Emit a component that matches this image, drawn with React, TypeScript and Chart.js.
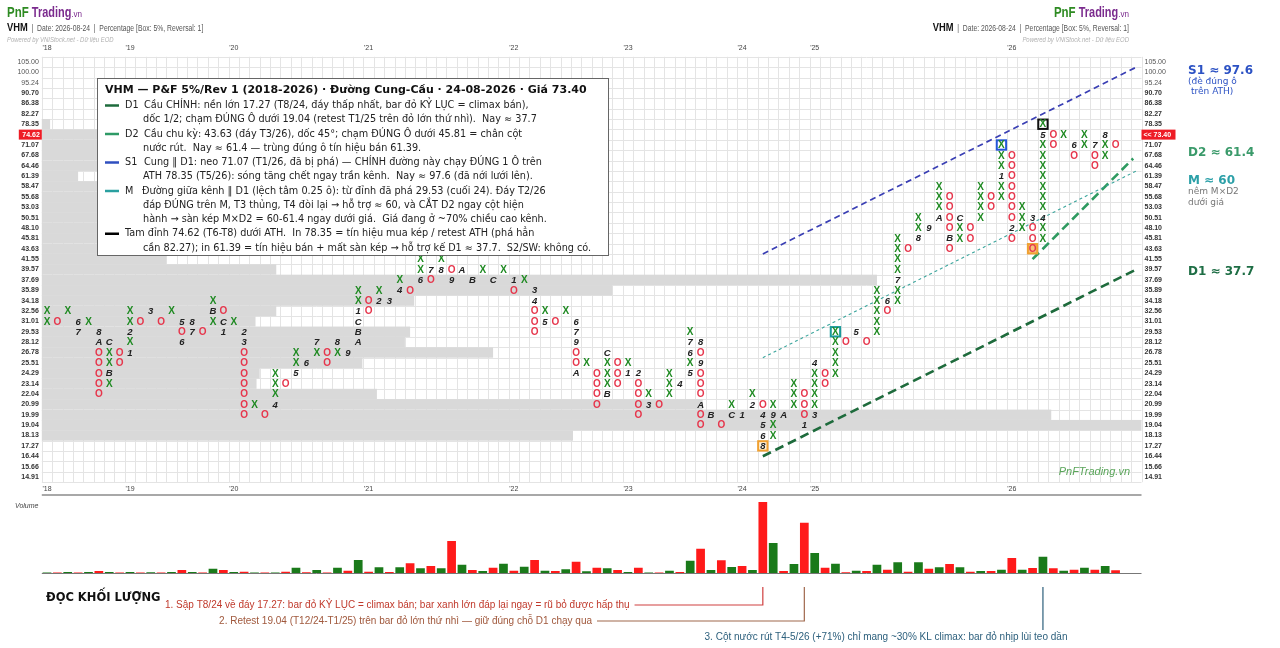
import React, { useEffect, useRef } from 'react';
import { Chart, registerables } from 'chart.js';
Chart.register(...registerables);

// ---------- DATA ----------
const boxLabels = ['14.91','15.66','16.44','17.27','18.13','19.04','19.99','20.99','22.04','23.14','24.29','25.51','26.78','28.12','29.53','31.01','32.56','34.18','35.89','37.69','39.57','41.55','43.63','45.81','48.10','50.51','53.03','55.68','58.47','61.39','64.46','67.68','71.07','74.62','78.35','82.27','86.38','90.70','95.24','100.00','105.00'];

// bottom box index of each P&F column
const colBottom = [15,15,16,14,15,8,9,11,12,15,16,15,16,13,14,14,15,14,15,6,7,6,7,9,10,11,12,11,12,12,13,16,17,17,18,18,19,19,20,19,20,19,20,19,20,18,19,14,15,15,16,10,11,7,8,9,10,6,7,7,8,9,10,5,6,5,6,6,7,3,4,6,7,5,6,9,10,13,14,13,14,16,17,22,23,24,25,22,23,23,25,26,27,23,24,22,23,32,33,31,32,30,31,32];
// boxes of each column from bottom to top (X / O, or month marker 1-9,A,B,C)
const colBoxes = ['XX','O','X','76','X','OOOOOA8','XBXXC','OO','1X2XX','O','3','O','X','6O5','78','O','XBX','1CO','X','OOOOOOO32','X','O','4XXX','O','5XX','6','X7','OO','X8','9','ABC1XX','OO','2X','3','4X','O','6XX','O7','8X','9O','A','B','X','C','X','O1','X','OOO43','5X','O','X','AOO976','X','OOOO','BXXXC','OOO','1X','OOOO2','3X','O','XXX','4','5X67X','OOAOOO9O8','B','O','CX','1','2X','8654O','XX9X','A','XXX','1OOO','3XXXX4','OO','XXXXX','O','5','O','XXXXX','O6','XX7XXXX','O','8XX','9','AXXX','OBOOOO','XXC','OO','XXXX','OO','XX1XXX','O2OOOOOOO','XXX','OOO3','XX4XXXXXXX5X','OO','X','O6','XX','OO7','XX8','O'];

// volume per column (relative units)
const volumes = [0.5,0.5,1,0.5,1,2,1,0.5,1,0.5,0.8,0.5,1,3,1,0.5,4.3,3,1,1.3,0.5,0.5,0.5,1.3,5.3,0.7,3,0.5,5.3,2.3,13,1.3,5.7,1,5.7,9.7,4.7,7,4.7,32,8.3,3,2,5.3,9.3,2.3,6.3,13,2.3,2,3.7,11.3,1.7,5.3,4.7,3,1,5.3,0.4,0.4,2.3,1,12.3,24.3,3,12.7,6,7,3,71,30,2,9,50.3,20,5.3,9.3,0.7,2.3,2,8.3,3.3,10.7,1.3,10.7,4.3,5.7,9,5.7,1.3,2,2,3.3,15,3.3,5,16.3,4.7,2.3,3.3,5.3,3.3,7,2.7];

// volume-at-price profile per box (length in columns)
const priceProfile = [0,0,0,0,51.2,106,97.3,63.7,32.3,20.7,21,30.9,43.5,35,35.5,20.6,22.6,35.9,55,80.5,22.6,12,30,34,40,38,32,26,18,3.5,14,22,28,16,0.8,0,0,0,0,0,0];

const yearLabels = ["'18","'19","'20","'21","'22","'23","'24","'25","'26"];
const yearCols = [0,8,18,31,45,56,67,74,93];

const boxedCols = [69,95,76,92,96];
const boxedRows = [3,22,14,32,34];

const lastPrice = 73.40;
const lastBox = 33;

// trend lines (column, box) end points
const d1Cols = [69,105.2]; const d1Rows = [2,20.1];
const d2Cols = [95,104.7]; const d2Rows = [21,30.7];
const s1Cols = [69,105.2]; const s1Rows = [21.5,39.6];
const mCols = [69,105.2]; const mRows = [11.5,29.6];

// ---------- STYLES ----------
const NCOLS = 106;
const GREEN_X = '#1f8a22';
const RED_O = '#e6364c';
const boxedStyle = [
  { stroke: '#f0a030', fill: '#fff4e0' },
  { stroke: '#f0a030', fill: '#f6c27c' },
  { stroke: '#1a9a9a', fill: '#ffffff' },
  { stroke: '#2456d8', fill: '#ffffff' },
  { stroke: '#111111', fill: '#ffffff' },
];

const legendTitle = 'VHM — P&F 5%/Rev 1 (2018-2026) · Đường Cung-Cầu · 24-08-2026 · Giá 73.40';
const legendItems = [
  { color: '#1e6b3c', tag: 'D1', lines: ['Cầu CHÍNH: nền lớn 17.27 (T8/24, đáy thấp nhất, bar đỏ KỶ LỤC = climax bán),', 'dốc 1/2; chạm ĐÚNG Ô dưới 19.04 (retest T1/25 trên đỏ lớn thứ nhì).  Nay ≈ 37.7'] },
  { color: '#2e9a66', tag: 'D2', lines: ['Cầu chu kỳ: 43.63 (đáy T3/26), dốc 45°; chạm ĐÚNG Ô dưới 45.81 = chân cột', 'nước rút.  Nay ≈ 61.4 — trùng đúng ô tín hiệu bán 61.39.'] },
  { color: '#2f4fbf', tag: 'S1', lines: ['Cung ‖ D1: neo 71.07 (T1/26, đã bị phá) — CHÍNH đường này chạy ĐÚNG 1 Ô trên', 'ATH 78.35 (T5/26): sóng tăng chết ngay trần kênh.  Nay ≈ 97.6 (đã nới lưới lên).'] },
  { color: '#2aa0a0', tag: 'M', lines: ['Đường giữa kênh ‖ D1 (lệch tâm 0.25 ô): từ đỉnh đã phá 29.53 (cuối 24). Đáy T2/26', 'đáp ĐÚNG trên M, T3 thủng, T4 đòi lại → hỗ trợ ≈ 60, và CẮT D2 ngay cột hiện', 'hành → sàn kép M×D2 = 60-61.4 ngay dưới giá.  Giá đang ở ~70% chiều cao kênh.'] },
  { color: '#000000', tag: '', lines: ['Tam đỉnh 74.62 (T6-T8) dưới ATH.  In 78.35 = tín hiệu mua kép / retest ATH (phá hẳn', 'cần 82.27); in 61.39 = tín hiệu bán + mất sàn kép → hỗ trợ kế D1 ≈ 37.7.  S2/SW: không có.'] },
];

const SANS = '"DejaVu Sans", "Liberation Sans", sans-serif';
const ARIAL = '"Liberation Sans", Arial, sans-serif';

function buildMarks() {
  const xs: any[] = [], os: any[] = [], ms: any[] = [];
  colBottom.forEach((b, c) => {
    const s = colBoxes[c];
    for (let k = 0; k < s.length; k++) {
      const ch = s[k];
      const p = { x: c, y: b + k, ch };
      if (ch === 'X') xs.push(p); else if (ch === 'O') os.push(p); else ms.push(p);
    }
  });
  return { xs, os, ms };
}

type Seg = { t: string; f: string; c: string; sx?: number };
function segText(ctx: CanvasRenderingContext2D, segs: Seg[], x: number, y: number, align: 'left' | 'right') {
  let w = 0;
  segs.forEach(s => { ctx.font = s.f; w += ctx.measureText(s.t).width * (s.sx || 1); });
  let cx = align === 'left' ? x : x - w;
  ctx.textAlign = 'left';
  segs.forEach(s => {
    const sx = s.sx || 1;
    ctx.font = s.f; ctx.fillStyle = s.c;
    ctx.save(); ctx.translate(cx, y); ctx.scale(sx, 1); ctx.fillText(s.t, 0, 0); ctx.restore();
    cx += ctx.measureText(s.t).width * sx;
  });
  return w;
}

const pnfPlugin = {
  id: 'pnfPlugin',
  beforeDatasetsDraw(chart: any) {
    const { ctx, chartArea: a, scales } = chart;
    const x = scales.x, y = scales.y;
    ctx.save();
    ctx.fillStyle = '#ffffff';
    ctx.fillRect(a.left, a.top, a.right - a.left, a.bottom - a.top);
    ctx.strokeStyle = '#e4e4e4';
    ctx.lineWidth = 1;
    for (let c = 0; c <= NCOLS; c++) {
      const px = Math.round(x.getPixelForValue(c - 0.5)) + 0.5;
      ctx.beginPath(); ctx.moveTo(px, a.top); ctx.lineTo(px, a.bottom); ctx.stroke();
    }
    for (let r = 0; r <= boxLabels.length; r++) {
      const py = Math.round(y.getPixelForValue(r - 0.5)) + 0.5;
      ctx.beginPath(); ctx.moveTo(a.left, py); ctx.lineTo(a.right, py); ctx.stroke();
    }
    ctx.fillStyle = '#d9d9d9';
    priceProfile.forEach((v, r) => {
      if (v <= 0) return;
      const x1 = x.getPixelForValue(-0.5);
      const x2 = Math.min(x.getPixelForValue(v - 0.5), a.right);
      const yt = y.getPixelForValue(r + 0.5), yb = y.getPixelForValue(r - 0.5);
      ctx.fillRect(x1, yt, x2 - x1, yb - yt);
    });
    ctx.restore();
  },
  afterDatasetsDraw(chart: any) {
    const { ctx, scales } = chart;
    const x = scales.x, y = scales.y;
    const cw = Math.abs(x.getPixelForValue(1) - x.getPixelForValue(0));
    ctx.save();
    boxedCols.forEach((c, i) => {
      const px = x.getPixelForValue(c), py = y.getPixelForValue(boxedRows[i]);
      const st = boxedStyle[i];
      ctx.fillStyle = st.fill; ctx.strokeStyle = st.stroke; ctx.lineWidth = 2;
      ctx.fillRect(px - cw / 2 + 0.5, py - cw / 2 + 0.5, cw - 1, cw - 1);
      ctx.strokeRect(px - cw / 2 + 0.5, py - cw / 2 + 0.5, cw - 1, cw - 1);
    });
    ctx.textAlign = 'center';
    ctx.textBaseline = 'middle';
    chart.data.datasets.forEach((ds: any, i: number) => {
      if (!ds.markKind) return;
      const meta = chart.getDatasetMeta(i);
      if (ds.markKind === 'X') { ctx.font = `bold 10px ${ARIAL}`; ctx.fillStyle = GREEN_X; }
      else if (ds.markKind === 'O') { ctx.font = `bold 10px ${ARIAL}`; ctx.fillStyle = RED_O; }
      else { ctx.font = `italic bold 9.5px ${ARIAL}`; ctx.fillStyle = '#222222'; }
      meta.data.forEach((el: any, j: number) => {
        ctx.fillText(ds.data[j].ch, el.x, el.y + 0.5);
      });
    });
    ctx.restore();
  },
  afterDraw(chart: any) {
    const { ctx, chartArea: a, scales } = chart;
    const x = scales.x, y = scales.y;
    ctx.save();
    ctx.textBaseline = 'middle';
    boxLabels.forEach((lab, r) => {
      const py = y.getPixelForValue(r);
      ctx.font = `bold 7px ${ARIAL}`;
      if (r === lastBox) {
        ctx.fillStyle = '#ee1c25';
        ctx.fillRect(a.left - 23, py - 5, 23, 10);
        ctx.fillStyle = '#ffffff'; ctx.textAlign = 'right';
        ctx.fillText(lab, a.left - 2, py);
        ctx.fillStyle = '#ee1c25';
        ctx.fillRect(a.right, py - 5, 34, 10);
        ctx.fillStyle = '#ffffff'; ctx.textAlign = 'left';
        ctx.fillText('<< ' + lastPrice.toFixed(2), a.right + 2, py);
      } else {
        ctx.fillStyle = r >= 38 ? '#555555' : '#333333';
        ctx.font = r >= 38 ? `7px ${ARIAL}` : `bold 7px ${ARIAL}`;
        ctx.textAlign = 'right'; ctx.fillText(lab, a.left - 3, py);
        ctx.textAlign = 'left'; ctx.fillText(lab, a.right + 3, py);
      }
    });
    ctx.font = `7px ${ARIAL}`; ctx.fillStyle = '#444444'; ctx.textAlign = 'center';
    yearLabels.forEach((lab, i) => {
      const px = x.getPixelForValue(yearCols[i]);
      ctx.fillText(lab, px, 48);
      ctx.fillText(lab, px, 489);
    });
    // header left and right
    ctx.textBaseline = 'alphabetic';
    const logo: Seg[] = [
      { t: 'PnF ', f: `bold 14px ${ARIAL}`, c: '#2e8b22', sx: 0.82 },
      { t: 'Trading', f: `bold 14px ${ARIAL}`, c: '#7b2b8e', sx: 0.78 },
      { t: '.vn', f: `9px ${ARIAL}`, c: '#7b2b8e', sx: 0.9 },
    ];
    const info: Seg[] = [
      { t: 'VHM', f: `bold 11px ${ARIAL}`, c: '#111111', sx: 0.85 },
      { t: '  |  Date: 2026-08-24  |  Percentage [Box: 5%, Reversal: 1]', f: `8.5px ${ARIAL}`, c: '#555555', sx: 0.8 },
    ];
    const powered: Seg[] = [{ t: 'Powered by VNIStock.net - Dữ liệu EOD', f: `italic 7px ${ARIAL}`, c: '#b0b0b0', sx: 0.85 }];
    segText(ctx, logo, 7, 17, 'left');
    segText(ctx, info, 7, 31, 'left');
    segText(ctx, powered, 7, 42, 'left');
    segText(ctx, logo, 1129, 17, 'right');
    segText(ctx, info, 1129, 31, 'right');
    segText(ctx, powered, 1129, 42, 'right');
    ctx.font = `italic 11px ${ARIAL}`; ctx.fillStyle = '#5aa55a'; ctx.textAlign = 'right';
    ctx.fillText('PnFTrading.vn', 1130, 475);
    ctx.textAlign = 'left';
    const rt = (t: string, f: string, c: string, px: number, py: number) => { ctx.font = f; ctx.fillStyle = c; ctx.fillText(t, px, py); };
    rt('S1 ≈ 97.6', `bold 12px ${SANS}`, '#2c52c4', 1188, 74);
    rt('(đè đúng ô', `9px ${SANS}`, '#2c52c4', 1188, 84);
    rt('trên ATH)', `9px ${SANS}`, '#2c52c4', 1191, 94);
    rt('D2 ≈ 61.4', `bold 12px ${SANS}`, '#3a9a6a', 1188, 156);
    rt('M ≈ 60', `bold 12px ${SANS}`, '#2ca0a8', 1188, 184);
    rt('nêm M×D2', `9px ${SANS}`, '#777777', 1188, 194);
    rt('dưới giá', `9px ${SANS}`, '#777777', 1188, 205);
    rt('D1 ≈ 37.7', `bold 12px ${SANS}`, '#1e6e45', 1188, 275);
    // legend box
    const lx = 97.5, ly = 78.5, lw = 511, lh = 177;
    ctx.fillStyle = '#ffffff'; ctx.fillRect(lx, ly, lw, lh);
    ctx.strokeStyle = '#666666'; ctx.lineWidth = 1; ctx.strokeRect(lx, ly, lw, lh);
    ctx.textBaseline = 'middle';
    ctx.font = `bold 11px ${SANS}`; ctx.fillStyle = '#111111';
    ctx.fillText(legendTitle, 105, 90);
    let ly2 = 105.5;
    const step = 14.25;
    legendItems.forEach(it => {
      it.lines.forEach((ln, k) => {
        ctx.font = `9.7px ${SANS}`; ctx.fillStyle = '#222222';
        if (k === 0) {
          ctx.strokeStyle = it.color; ctx.lineWidth = 2.5;
          ctx.beginPath(); ctx.moveTo(105, ly2); ctx.lineTo(119, ly2); ctx.stroke();
          if (it.tag) {
            ctx.fillText(it.tag, 125, ly2);
            ctx.fillText(ln, it.tag === 'M' ? 142 : 144, ly2);
          } else {
            ctx.fillText(ln, 125, ly2);
          }
        } else {
          ctx.fillText(ln, 143, ly2);
        }
        ly2 += step;
      });
    });
    ctx.restore();
  },
};

const volPlugin = {
  id: 'volPlugin',
  afterDraw(chart: any) {
    const { ctx, chartArea: a, scales } = chart;
    const x = scales.x;
    ctx.save();
    ctx.strokeStyle = '#a8a8a8'; ctx.lineWidth = 2;
    ctx.beginPath(); ctx.moveTo(a.left, 495); ctx.lineTo(a.right, 495); ctx.stroke();
    ctx.strokeStyle = '#777777'; ctx.lineWidth = 1;
    ctx.beginPath(); ctx.moveTo(a.left, a.bottom + 0.5); ctx.lineTo(a.right, a.bottom + 0.5); ctx.stroke();
    ctx.font = `italic 7px ${ARIAL}`; ctx.fillStyle = '#444444'; ctx.textBaseline = 'middle'; ctx.textAlign = 'left';
    ctx.fillText('Volume', 15, 506);
    ctx.font = `bold 11.5px ${SANS}`; ctx.fillStyle = '#111111';
    ctx.fillText('ĐỌC KHỐI LƯỢNG', 46, 598);
    const x69 = x.getPixelForValue(69), x73 = x.getPixelForValue(73), x96 = x.getPixelForValue(96);
    ctx.font = `10px ${ARIAL}`;
    ctx.fillStyle = '#c0392b';
    const t1 = '1. Sập T8/24 về đáy 17.27: bar đỏ KỶ LỤC = climax bán; bar xanh lớn đáp lại ngay = rũ bỏ được hấp thụ';
    ctx.fillText(t1, 165, 605);
    const e1 = 165 + ctx.measureText(t1).width + 5;
    ctx.strokeStyle = '#d04040'; ctx.lineWidth = 1.2;
    ctx.beginPath(); ctx.moveTo(e1, 605); ctx.lineTo(x69, 605); ctx.lineTo(x69, 587); ctx.stroke();
    ctx.fillStyle = '#a0583c'; ctx.textAlign = 'right';
    const t2 = '2. Retest 19.04 (T12/24-T1/25) trên bar đỏ lớn thứ nhì — giữ đúng chỗ D1 chạy qua';
    ctx.fillText(t2, 592, 621);
    ctx.strokeStyle = '#a0684c';
    ctx.beginPath(); ctx.moveTo(597, 621); ctx.lineTo(x73, 621); ctx.lineTo(x73, 587); ctx.stroke();
    ctx.fillStyle = '#2c5f7c'; ctx.textAlign = 'center';
    ctx.fillText('3. Cột nước rút T4-5/26 (+71%) chỉ mang ~30% KL climax: bar đỏ nhịp lùi teo dần', 886, 637);
    ctx.strokeStyle = '#2c5f7c';
    ctx.beginPath(); ctx.moveTo(x96, 587); ctx.lineTo(x96, 630); ctx.stroke();
    ctx.restore();
  },
};

export default function App() {
  const pnfRef = useRef<HTMLCanvasElement>(null);
  const volRef = useRef<HTMLCanvasElement>(null);
  useEffect(() => {
    const { xs, os, ms } = buildMarks();
    const line = (cols: number[], rows: number[], color: string, width: number, dash: number[]) => ({
      type: 'line' as const,
      data: cols.map((c, i) => ({ x: c, y: rows[i] })),
      borderColor: color, borderWidth: width, borderDash: dash,
      pointRadius: 0, showLine: true, fill: false,
    });
    const c1 = new Chart(pnfRef.current!, {
      type: 'scatter',
      data: {
        datasets: [
          line(mCols, mRows, '#3aa59c', 1.1, [3, 3]),
          line(s1Cols, s1Rows, '#3a3fb4', 1.7, [6, 4]),
          line(d1Cols, d1Rows, '#1e6b3c', 2.6, [9, 5]),
          line(d2Cols, d2Rows, '#2e9a60', 2.6, [9, 5]),
          { data: xs, pointRadius: 0, markKind: 'X' } as any,
          { data: os, pointRadius: 0, markKind: 'O' } as any,
          { data: ms, pointRadius: 0, markKind: 'M' } as any,
        ],
      },
      options: {
        animation: false, responsive: false, devicePixelRatio: 1,
        layout: { padding: { left: 41.8, top: 56.8, right: 138.5, bottom: 165.8 } },
        scales: {
          x: { type: 'linear', min: -0.5, max: 105.5, display: false },
          y: { type: 'linear', min: -0.5, max: 40.5, display: false },
        },
        plugins: { legend: { display: false }, tooltip: { enabled: false } },
        events: [],
      },
      plugins: [pnfPlugin],
    } as any);
    const labels = Array.from({ length: NCOLS }, (_, i) => String(i));
    const volColors = colBottom.map((_, c) => (c % 2 === 0 ? '#1a7a1a' : '#ff1a1a'));
    const c2 = new Chart(volRef.current!, {
      type: 'bar',
      data: { labels, datasets: [{ data: volumes, backgroundColor: volColors, categoryPercentage: 1, barPercentage: 0.84 }] },
      options: {
        animation: false, responsive: false, devicePixelRatio: 1,
        layout: { padding: { left: 41.8, top: 500, right: 138.5, bottom: 75 } },
        scales: {
          x: { display: false },
          y: { min: 0, max: 73, display: false },
        },
        plugins: { legend: { display: false }, tooltip: { enabled: false } },
        events: [],
      },
      plugins: [volPlugin],
    } as any);
    return () => { c1.destroy(); c2.destroy(); };
  }, []);
  return (
    <div style={{ position: 'fixed', left: 0, top: 0, width: 1280, height: 648, background: '#ffffff' }}>
      <canvas ref={pnfRef} width={1280} height={648} style={{ position: 'absolute', left: 0, top: 0 }} />
      <canvas ref={volRef} width={1280} height={648} style={{ position: 'absolute', left: 0, top: 0 }} />
    </div>
  );
}
